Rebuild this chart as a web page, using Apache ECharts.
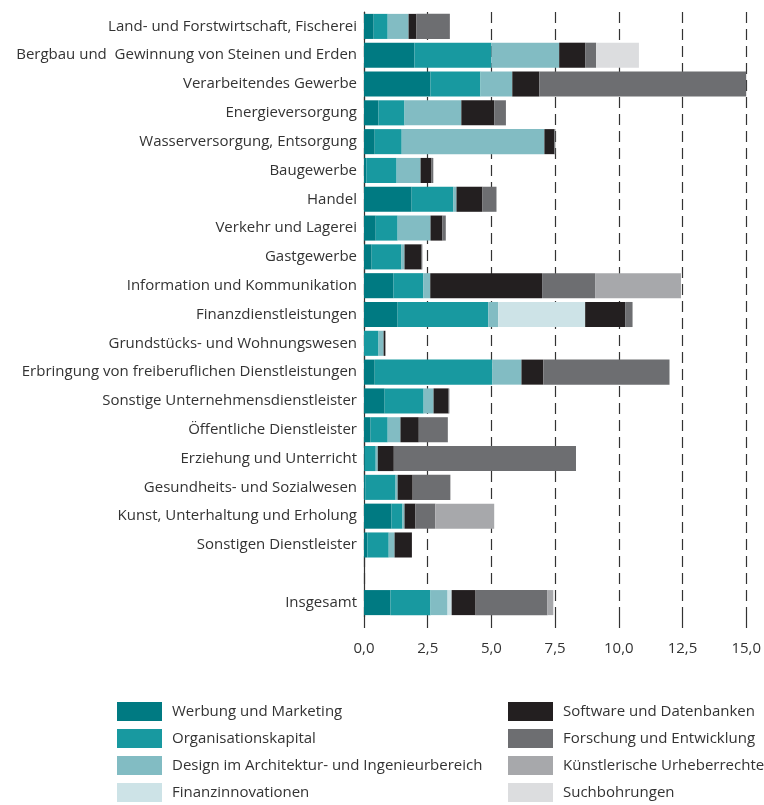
<!DOCTYPE html>
<html>
<head>
<meta charset="utf-8">
<script src="https://cdn.jsdelivr.net/npm/echarts@6/dist/echarts.min.js"></script>
<style>
  html, body { margin: 0; padding: 0; background: #fff; }
  #chart { width: 764px; height: 805px; }
</style>
</head>
<body>
<div id="chart"></div>
<script>
  let categories = [
    'Land- und Forstwirtschaft, Fischerei',
    'Bergbau und  Gewinnung von Steinen und Erden',
    'Verarbeitendes Gewerbe',
    'Energieversorgung',
    'Wasserversorgung, Entsorgung',
    'Baugewerbe',
    'Handel',
    'Verkehr und Lagerei',
    'Gastgewerbe',
    'Information und Kommunikation',
    'Finanzdienstleistungen',
    'Grundstücks- und Wohnungswesen',
    'Erbringung von freiberuflichen Dienstleistungen',
    'Sonstige Unternehmensdienstleister',
    'Öffentliche Dienstleister',
    'Erziehung und Unterricht',
    'Gesundheits- und Sozialwesen',
    'Kunst, Unterhaltung und Erholung',
    'Sonstigen Dienstleister',
    '',
    'Insgesamt'
  ]
  let xTicks = [0, 2.5, 5, 7.5, 10, 12.5, 15]

  let werbung      = [0.38, 1.98, 2.61, 0.57, 0.42, 0.09, 1.87, 0.46, 0.30, 1.16, 1.32, 0,    0.42, 0.81, 0.26, 0.03, 0.05, 1.08, 0.13, '-', 1.04]
  let organisation = [0.55, 3.02, 1.96, 1.02, 1.06, 1.19, 1.64, 0.86, 1.17, 1.17, 3.56, 0.57, 4.62, 1.53, 0.67, 0.43, 1.19, 0.43, 0.84, '-', 1.57]
  let design       = [0.82, 2.66, 1.25, 2.23, 5.60, 0.94, 0.12, 1.29, 0.12, 0.27, 0.39, 0.20, 1.14, 0.39, 0.50, 0.08, 0.08, 0.08, 0.23, '-', 0.67]
  let finanz       = [0,    0,    0,    0,    0,    0,    0,    0,    0,    0,    3.41, 0,    0,    0,    0,    0,    0,    0,    0,    '-', 0.16]
  let software     = [0.31, 1.02, 1.06, 1.29, 0.39, 0.43, 1.02, 0.47, 0.67, 4.39, 1.57, 0.07, 0.86, 0.59, 0.72, 0.63, 0.59, 0.43, 0.68, '-', 0.94]
  let forschung    = [1.31, 0.43, 8.12, 0.46, 0.04, 0.07, 0.55, 0.13, 0.03, 2.08, 0.29, 0,    4.95, 0.03, 1.14, 7.15, 1.48, 0.78, 0,    '-', 2.82]
  let kuenstler    = [0,    0,    0,    0,    0,    0,    0,    0,    0,    3.37, 0,    0,    0,    0,    0,    0,    0,    2.31, 0,    '-', 0.23]
  let such         = [0,    1.68, 0,    0,    0,    0,    0,    0,    0,    0,    0,    0,    0,    0,    0,    0,    0,    0,    0,    '-', 0]

  let seriesDefs = [
    { name: 'Werbung und Marketing', data: werbung, color: '#007a82' },
    { name: 'Organisationskapital', data: organisation, color: '#1899a0' },
    { name: 'Design im Architektur- und Ingenieurbereich', data: design, color: '#82bcc3' },
    { name: 'Finanzinnovationen', data: finanz, color: '#cde3e7' },
    { name: 'Software und Datenbanken', data: software, color: '#231f20' },
    { name: 'Forschung und Entwicklung', data: forschung, color: '#6d6e71' },
    { name: 'Künstlerische Urheberrechte', data: kuenstler, color: '#a7a8ab' },
    { name: 'Suchbohrungen', data: such, color: '#dcdddf' }
  ]

  let textColor = '#333'
  let fontFamily = '"Open Sans", "Noto Sans", sans-serif'
  let fontSize = 15

  let chart = echarts.init(document.getElementById('chart'))
  let legendText = { color: textColor, fontSize: fontSize, fontFamily: fontFamily, padding: [0, 0, 0, 5] }

  function makeLegend(names, left) {
    return {
      data: names,
      orient: 'vertical',
      left: left,
      top: 702,
      height: 103,
      padding: 0,
      itemWidth: 45,
      itemHeight: 19,
      itemGap: 8,
      icon: 'rect',
      selectedMode: false,
      textStyle: legendText
    }
  }

  const options = {
    animation: false,
    grid: {
      top: 12,
      left: 364,
      right: 16,
      bottom: 188
    },
    legend: [
      makeLegend(seriesDefs.slice(0, 4).map(s => s.name), 117),
      makeLegend(seriesDefs.slice(4).map(s => s.name), 508)
    ],
    xAxis: {
      type: 'value',
      min: xTicks[0],
      max: xTicks[xTicks.length - 1],
      interval: 2.5,
      axisLine: { show: false },
      axisTick: {
        show: true,
        length: 15,
        lineStyle: { color: textColor, width: 1.2, type: [11, 6] }
      },
      splitLine: {
        show: true,
        lineStyle: { color: textColor, width: 1.2, type: [11, 6] }
      },
      axisLabel: {
        margin: 24,
        color: textColor,
        fontSize: fontSize,
        fontFamily: fontFamily,
        formatter: v => v.toFixed(1).replace('.', ',')
      }
    },
    yAxis: {
      type: 'category',
      inverse: true,
      data: categories,
      axisTick: { show: false },
      axisLine: { show: true, lineStyle: { color: textColor, width: 1.2 } },
      axisLabel: {
        margin: 7,
        interval: 0,
        color: textColor,
        fontSize: fontSize,
        fontFamily: fontFamily
      }
    },
    series: seriesDefs.map(s => ({
      name: s.name,
      type: 'bar',
      stack: 'Total',
      barCategoryGap: '13%',
      data: s.data,
      itemStyle: { color: s.color },
      emphasis: { disabled: true }
    }))
  }
  chart.setOption(options)
</script>
</body>
</html>
